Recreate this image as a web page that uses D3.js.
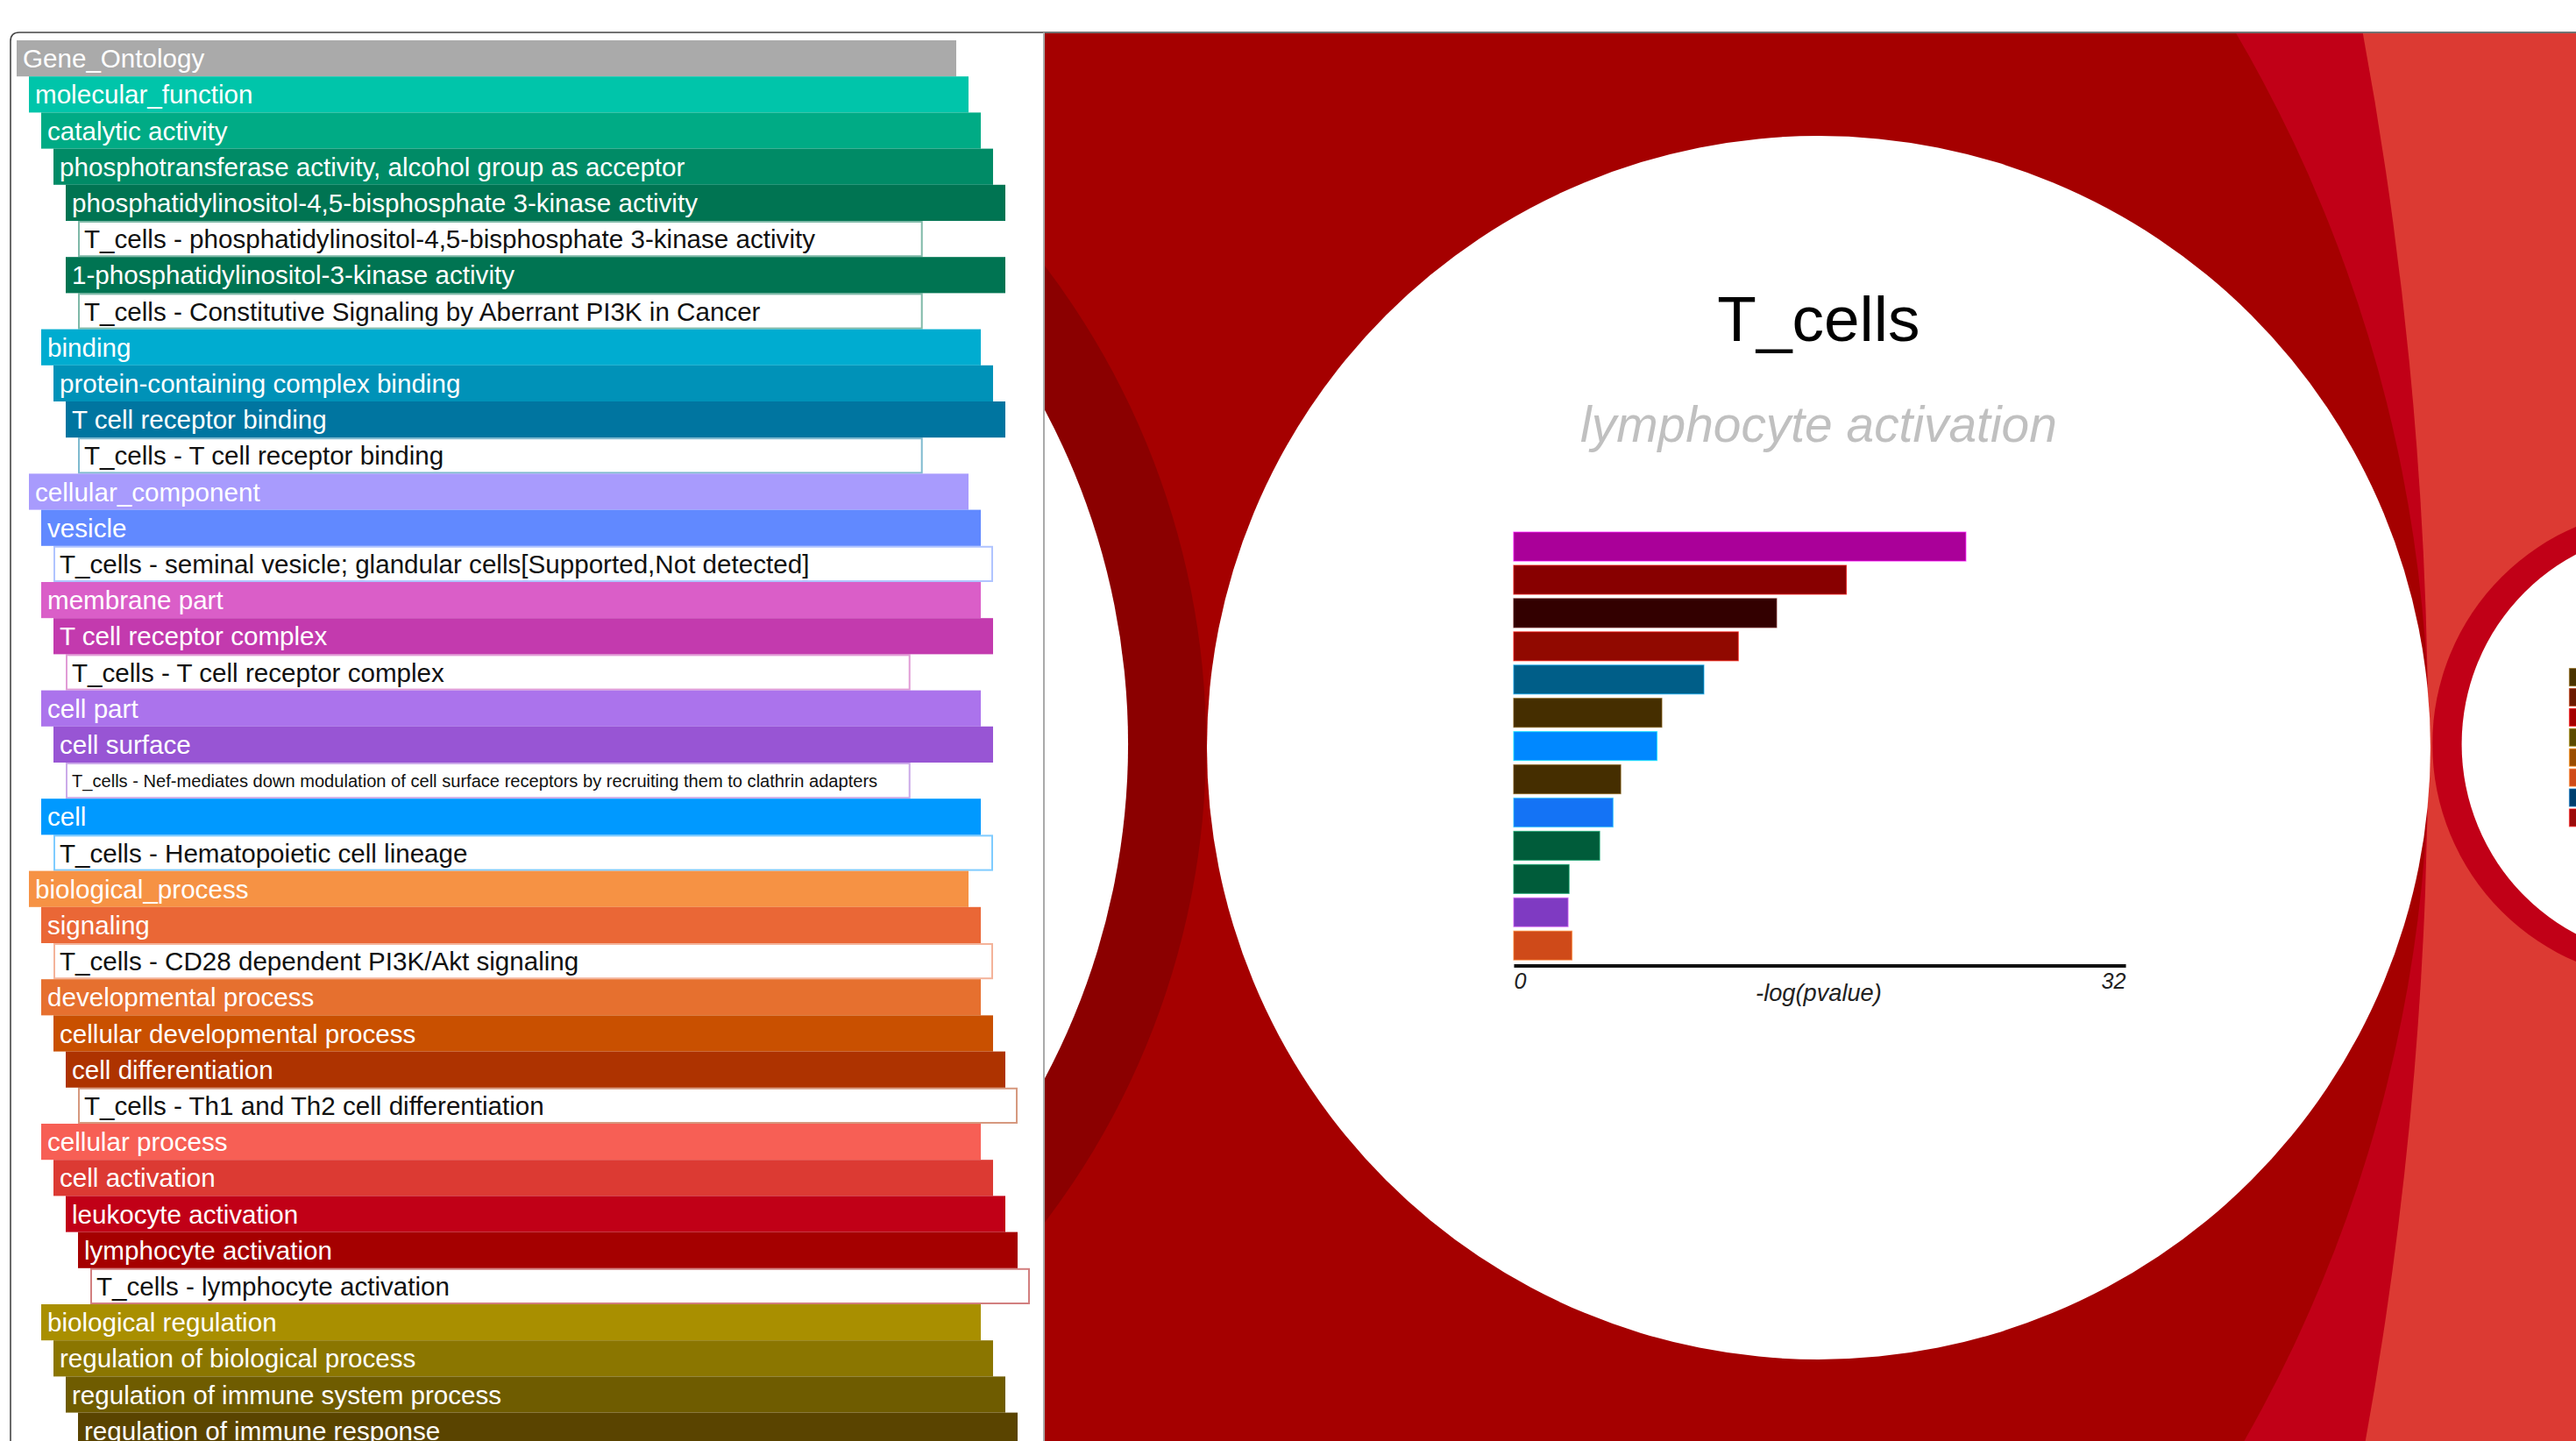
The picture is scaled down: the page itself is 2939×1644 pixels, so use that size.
<!DOCTYPE html>
<html>
<head>
<meta charset="utf-8">
<script src="https://cdn.jsdelivr.net/npm/d3@7"></script>
<style>
  html, body { margin: 0; padding: 0; background: #fff; overflow: hidden; }
  svg { display: block; font-family: 'Liberation Sans', Arial, sans-serif; }
</style>
</head>
<body>
<svg id="chart"></svg>
<script>
(function (d3) {
  'use strict';

  // ---- data ----
  const treeLabels = [
    'Gene_Ontology',
    'molecular_function',
    'catalytic activity',
    'phosphotransferase activity, alcohol group as acceptor',
    'phosphatidylinositol-4,5-bisphosphate 3-kinase activity',
    'T_cells - phosphatidylinositol-4,5-bisphosphate 3-kinase activity',
    '1-phosphatidylinositol-3-kinase activity',
    'T_cells - Constitutive Signaling by Aberrant PI3K in Cancer',
    'binding',
    'protein-containing complex binding',
    'T cell receptor binding',
    'T_cells - T cell receptor binding',
    'cellular_component',
    'vesicle',
    'T_cells - seminal vesicle; glandular cells[Supported,Not detected]',
    'membrane part',
    'T cell receptor complex',
    'T_cells - T cell receptor complex',
    'cell part',
    'cell surface',
    'T_cells - Nef-mediates down modulation of cell surface receptors by recruiting them to clathrin adapters',
    'cell',
    'T_cells - Hematopoietic cell lineage',
    'biological_process',
    'signaling',
    'T_cells - CD28 dependent PI3K/Akt signaling',
    'developmental process',
    'cellular developmental process',
    'cell differentiation',
    'T_cells - Th1 and Th2 cell differentiation',
    'cellular process',
    'cell activation',
    'leukocyte activation',
    'lymphocyte activation',
    'T_cells - lymphocyte activation',
    'biological regulation',
    'regulation of biological process',
    'regulation of immune system process',
    'regulation of immune response'
  ];
  const treeDepths = [0, 1, 2, 3, 4, 5, 4, 5, 2, 3, 4, 5, 1, 2, 3, 2, 3, 4, 2, 3, 4, 2, 3,
                      1, 2, 3, 2, 3, 4, 5, 2, 3, 4, 5, 6, 2, 3, 4, 5];

  const focusSample = 'T_cells';
  const focusTerm = 'lymphocyte activation';
  const barTerms = ['term 1', 'term 2', 'term 3', 'term 4', 'term 5', 'term 6', 'term 7',
                    'term 8', 'term 9', 'term 10', 'term 11', 'term 12', 'term 13'];
  const barValues = [23.65, 17.4, 13.75, 11.75, 9.95, 7.75, 7.5, 5.6, 5.2, 4.5, 2.9, 2.85, 3.05];
  const axisTicks = [0, 32];
  const axisTitle = '-log(pvalue)';

  const miniTerms = ['m1', 'm2', 'm3', 'm4', 'm5', 'm6', 'm7', 'm8'];
  const miniValues = [14, 12, 11, 9, 8, 7, 6, 5];

  // ---- styles ----
  const termColor = {
    'Gene_Ontology': '#aaaaaa',
    'molecular_function': '#00c5aa',
    'catalytic activity': '#00ab85',
    'phosphotransferase activity, alcohol group as acceptor': '#008b66',
    'phosphatidylinositol-4,5-bisphosphate 3-kinase activity': '#007452',
    '1-phosphatidylinositol-3-kinase activity': '#007452',
    'binding': '#00acd0',
    'protein-containing complex binding': '#0092b8',
    'T cell receptor binding': '#0075a0',
    'cellular_component': '#a89bfd',
    'vesicle': '#6189ff',
    'membrane part': '#da5ec8',
    'T cell receptor complex': '#c33aae',
    'cell part': '#ab73ec',
    'cell surface': '#9855d4',
    'cell': '#0099ff',
    'biological_process': '#f69244',
    'signaling': '#ea6736',
    'developmental process': '#e6702f',
    'cellular developmental process': '#c95000',
    'cell differentiation': '#ae3300',
    'cellular process': '#f75f55',
    'cell activation': '#dc3a33',
    'leukocyte activation': '#c10017',
    'lymphocyte activation': '#a50000',
    'biological regulation': '#a98f00',
    'regulation of biological process': '#8b7600',
    'regulation of immune system process': '#6f5c00',
    'regulation of immune response': '#5a4400'
  };
  const compactRows = [5, 7, 11, 17, 20];
  const smallRows = [20];
  const barColors = ['#aa0099', '#880000', '#330000', '#910900', '#005e88', '#452e00', '#0088ff',
                     '#452e00', '#1473f5', '#005c3a', '#005c3a', '#7f3ac2', '#cf4a19'];
  const miniColors = ['#4a3300', '#6b1a00', '#a50000', '#5c4a00', '#9a4c00', '#d04a19', '#003f6e', '#9b0a0a'];

  const width = 2939;
  const height = 1644;
  const panel = { left: 12, top: 37, split: 1191 };

  const svg = d3.select('#chart')
      .attr('width', width)
      .attr('height', height);

  // ---- left panel: ontology path list ----
  const rows = treeLabels.map((label, i) => {
    const depth = treeDepths[i];
    let parent = null;
    for (let j = i - 1; j >= 0; j--) {
      if (treeDepths[j] === depth - 1) { parent = treeLabels[j]; break; }
    }
    return { i, label, depth, parent, leaf: label.startsWith(focusSample + ' - ') };
  });

  const y = d3.scaleBand()
      .domain(d3.range(rows.length))
      .range([46, 46 + 41.2 * rows.length]);
  const indent = d3.scaleLinear().domain([0, 1]).range([19, 33]);
  const rowWidth = 1072;

  const left = svg.append('g');
  const rowG = left.selectAll('g.row').data(rows)
    .enter().append('g')
      .attr('class', 'row')
      .attr('transform', d => `translate(${indent(d.depth)},${y(d.i)})`);

  rowG.append('rect')
      .attr('x', d => d.leaf ? 1 : 0)
      .attr('y', d => d.leaf ? 1 : 0)
      .attr('width', d => (compactRows.includes(d.i) ? rowWidth * 0.899 : rowWidth) - (d.leaf ? 2 : 0))
      .attr('height', d => y.bandwidth() - (d.leaf ? 2 : 0))
      .attr('fill', d => d.leaf ? '#fff' : termColor[d.label])
      .attr('stroke', d => d.leaf ? termColor[d.parent] : 'none')
      .attr('stroke-opacity', 0.5)
      .attr('stroke-width', 2);

  rowG.append('text')
      .attr('x', 7)
      .attr('y', y.bandwidth() / 2)
      .attr('dy', '0.36em')
      .attr('font-size', d => smallRows.includes(d.i) ? 20.1 : 29.6)
      .attr('fill', d => d.leaf ? '#111' : '#fff')
      .text(d => d.label);

  // frame
  svg.append('path')
      .attr('d', `M${panel.left},${height} V${panel.top + 10} Q${panel.left},${panel.top} ${panel.left + 10},${panel.top} H${width}`)
      .attr('fill', 'none')
      .attr('stroke', '#444')
      .attr('stroke-width', 1.6);

  // ---- right panel: zoomed circle packing ----
  svg.append('clipPath').attr('id', 'viewClip')
    .append('rect')
      .attr('x', panel.split + 1)
      .attr('y', panel.top + 1)
      .attr('width', width - panel.split)
      .attr('height', height - panel.top);

  const view = svg.append('g').attr('clip-path', 'url(#viewClip)');

  // view transform: focus circle (lymphocyte activation) is unit circle
  const k = 1606;
  const vx = d3.scaleLinear().domain([0, 1]).range([1165, 1165 + k]);
  const vy = d3.scaleLinear().domain([0, 1]).range([849, 849 + k]);

  const packNodes = [
    { name: 'cell activation', x: 0, y: 0, r: 6, fill: termColor['cell activation'] },
    { name: 'leukocyte activation', x: -1.777, y: 0, r: 2.7765, fill: termColor['leukocyte activation'] },
    { name: 'leukocyte sibling', x: 1.1706, y: 0, r: 0.168, fill: termColor['leukocyte activation'] },
    { name: 'leukocyte sibling leaf', x: 1.176, y: 0, r: 0.1526, fill: '#fff' },
    { name: 'lymphocyte activation', x: 0, y: 0, r: 1, fill: termColor['lymphocyte activation'] },
    { name: 'lymphocyte child', x: -0.4296, y: 0, r: 0.561, fill: '#8b0000' },
    { name: 'lymphocyte child leaf', x: -0.4296, y: 0, r: 0.5056, fill: '#fff' },
    { name: focusSample, x: 0.5666, y: 0.0025, r: 0.4346, fill: '#fff' }
  ];

  view.selectAll('circle').data(packNodes)
    .enter().append('circle')
      .attr('cx', d => vx(d.x))
      .attr('cy', d => vy(d.y))
      .attr('r', d => d.r * k)
      .attr('fill', d => d.fill);

  function drawChart(g, opt) {
    const { cx, cy, r } = opt;
    const x = d3.scaleLinear()
        .domain([axisTicks[0], axisTicks[axisTicks.length - 1]])
        .range([cx - 0.4986 * r, cx + 0.5016 * r]);
    const band = d3.scaleBand()
        .domain(opt.terms)
        .range([cy - 0.3524 * r, cy + opt.bottom * r])
        .paddingInner(0.13);

    if (opt.titles) {
      g.append('text')
          .attr('x', cx)
          .attr('y', cy - 0.665 * r)
          .attr('text-anchor', 'middle')
          .attr('font-size', 0.1046 * r)
          .attr('fill', '#000')
          .text(focusSample);
      g.append('text')
          .attr('x', cx)
          .attr('y', cy - 0.5 * r)
          .attr('text-anchor', 'middle')
          .attr('font-size', 0.0815 * r)
          .attr('font-style', 'italic')
          .attr('fill', '#c0c0c0')
          .text(focusTerm);
    }

    g.selectAll('rect.bar').data(opt.values)
      .enter().append('rect')
        .attr('class', 'bar')
        .attr('x', x(0))
        .attr('y', (d, i) => band(opt.terms[i]))
        .attr('width', d => x(d) - x(0))
        .attr('height', band.bandwidth())
        .attr('fill', (d, i) => opt.colors[i])
        .attr('stroke', (d, i) => d3.color(opt.colors[i]).brighter(1.6))
        .attr('stroke-opacity', 0.6)
        .attr('stroke-width', 1.2);

    if (!opt.axis) return;
    const axisY = cy + 0.356 * r;
    const axis = g.append('g')
        .attr('transform', `translate(0,${axisY})`)
        .call(d3.axisBottom(x).tickValues(axisTicks).tickSize(0).tickPadding(0.013 * r));
    axis.select('.domain')
        .attr('stroke', '#111')
        .attr('stroke-width', 0.0058 * r);
    axis.selectAll('.tick text')
        .attr('font-size', 0.036 * r)
        .attr('font-style', 'italic')
        .attr('font-family', "'Liberation Sans', Arial, sans-serif")
        .attr('fill', '#222')
        .attr('text-anchor', (d, i) => i === 0 ? 'start' : 'end');
    g.append('text')
        .attr('x', cx)
        .attr('y', cy + 0.414 * r)
        .attr('text-anchor', 'middle')
        .attr('font-size', 0.039 * r)
        .attr('font-style', 'italic')
        .attr('fill', '#222')
        .text(axisTitle);
  }

  const focusNode = packNodes.find(d => d.name === focusSample);
  drawChart(view.append('g'), {
    cx: vx(focusNode.x), cy: vy(focusNode.y), r: focusNode.r * k,
    terms: barTerms, values: barValues, colors: barColors, bottom: 0.347, axis: true, titles: true
  });

  const miniNode = packNodes.find(d => d.name === 'leukocyte sibling leaf');
  drawChart(view.append('g'), {
    cx: vx(miniNode.x), cy: vy(miniNode.y), r: miniNode.r * k,
    terms: miniTerms, values: miniValues, colors: miniColors, bottom: 0.383, axis: false, titles: false
  });

  // divider between panels
  svg.append('line')
      .attr('x1', panel.split).attr('x2', panel.split)
      .attr('y1', panel.top).attr('y2', height)
      .attr('stroke', '#aaa')
      .attr('stroke-width', 2);

}(d3));
</script>
</body>
</html>
